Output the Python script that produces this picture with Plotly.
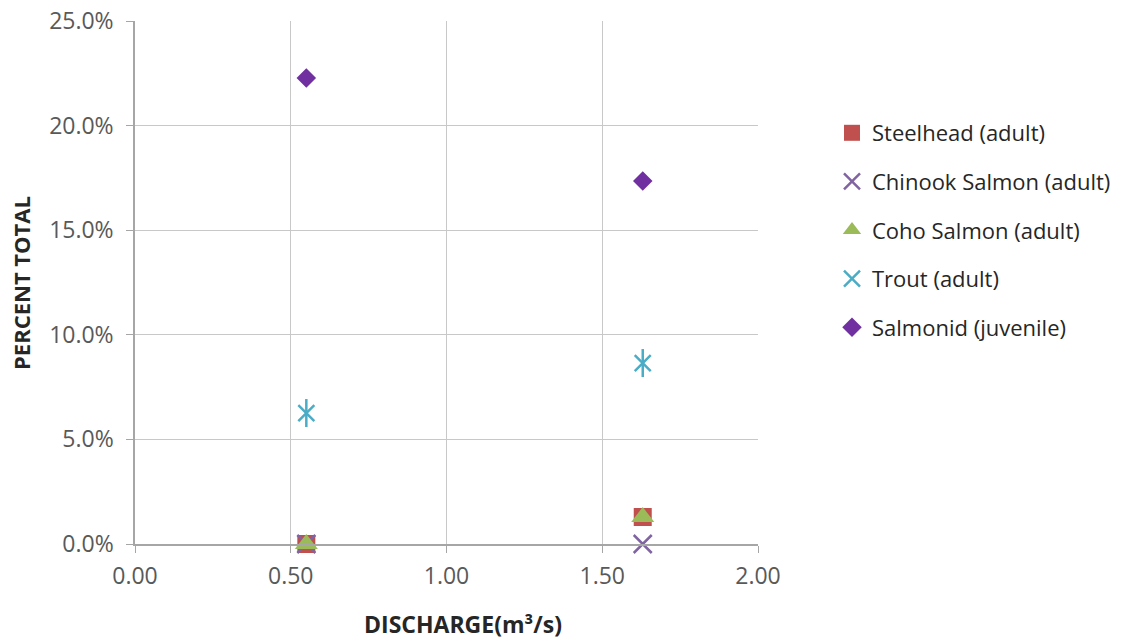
import plotly.graph_objects as go

discharge = [0.55, 1.63]
steelhead = [0.0, 0.0129]
chinook = [0.0, 0.0]
coho = [0.0, 0.0129]
trout = [0.0626, 0.0865]
salmonid = [0.2227, 0.1735]

x_ticks = [0.0, 0.5, 1.0, 1.5, 2.0]
y_ticks = [0.0, 0.05, 0.10, 0.15, 0.20, 0.25]

FONT = "Open Sans"

fig = go.Figure()
fig.add_trace(go.Scatter(x=discharge, y=steelhead, mode="markers", name="Steelhead (adult)",
                         legendgroup="a", cliponaxis=False,
                         marker=dict(symbol="square", size=18, color="#C0504D")))
fig.add_trace(go.Scatter(x=discharge, y=chinook, mode="markers", name="Chinook Salmon (adult)",
                         legendgroup="b", cliponaxis=False,
                         marker=dict(symbol="x-thin-open", size=18, color="#8064A2",
                                     line=dict(width=2.5, color="#8064A2"))))
fig.add_trace(go.Scatter(x=discharge, y=coho, mode="markers", name="Coho Salmon (adult)",
                         legendgroup="c", cliponaxis=False,
                         marker=dict(symbol="triangle-up", size=20, color="#9BBB59")))
fig.add_trace(go.Scatter(x=discharge, y=trout, mode="markers", name="Trout (adult)",
                         legendgroup="d", cliponaxis=False,
                         marker=dict(symbol="x-thin-open", size=16, color="#4BACC6",
                                     line=dict(width=2.5, color="#4BACC6"))))
fig.add_trace(go.Scatter(x=discharge, y=trout, mode="markers", name="Trout (adult)",
                         legendgroup="d", showlegend=False, cliponaxis=False,
                         marker=dict(symbol="line-ns-open", size=20, color="#4BACC6",
                                     line=dict(width=2.5, color="#4BACC6"))))
fig.add_trace(go.Scatter(x=discharge, y=salmonid, mode="markers", name="Salmonid (juvenile)",
                         legendgroup="e", cliponaxis=False,
                         marker=dict(symbol="diamond", size=15, color="#7030A0")))

fig.update_layout(
    width=1122, height=639,
    margin=dict(l=135, r=364, t=21, b=95, autoexpand=False),
    paper_bgcolor="white", plot_bgcolor="white",
    font=dict(family=FONT, size=23, color="#595959"),
    showlegend=True,
    legend=dict(xref="container", yref="container",
                x=832 / 1122, y=1 - 112 / 639, xanchor="left", yanchor="top",
                font=dict(family=FONT, size=22, color="#262626"),
                traceorder="grouped", tracegroupgap=17, itemwidth=30),
    xaxis=dict(range=[0, 2], tickvals=x_ticks, tickformat=".2f",
               showgrid=True, gridcolor="#C8C8C8", gridwidth=1,
               showline=True, linecolor="#A6A6A6", linewidth=1.5,
               ticks="outside", ticklen=7, tickcolor="#A6A6A6",
               ticklabelstandoff=4,
               zeroline=False, tickfont=dict(size=23, color="#595959")),
    yaxis=dict(range=[0, 0.25], tickvals=y_ticks, tickformat=".1%",
               showgrid=True, gridcolor="#C8C8C8", gridwidth=1,
               showline=True, linecolor="#A6A6A6", linewidth=1.5,
               ticks="outside", ticklen=7, tickcolor="#A6A6A6",
               ticklabelstandoff=8,
               zeroline=False, tickfont=dict(size=23, color="#595959")),
    annotations=[
        dict(text="<b>DISCHARGE(m³/s)</b>", xref="paper", yref="paper",
             x=(463 - 135) / 623, y=-(624 - 544) / 523, xanchor="center", yanchor="middle",
             showarrow=False, font=dict(family=FONT, size=23, color="#262626")),
        dict(text="<b>PERCENT TOTAL</b>", xref="paper", yref="paper",
             x=-(135 - 21) / 623, y=(544 - 283) / 523, xanchor="center", yanchor="middle",
             textangle=-90, showarrow=False,
             font=dict(family=FONT, size=22, color="#262626")),
    ],
)

fig.write_html("out.html")
